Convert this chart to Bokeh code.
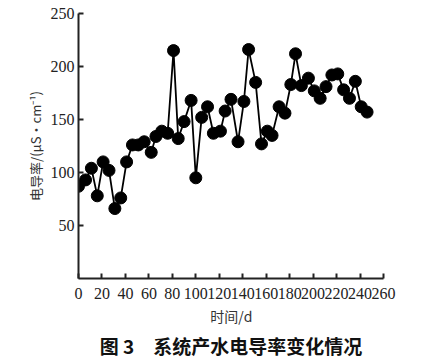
from bokeh.plotting import figure
from bokeh.models import Range1d, FixedTicker, Title, ColumnDataSource
from bokeh.embed import file_html
from bokeh.resources import INLINE

days = [0, 6, 11, 16, 21, 26, 31, 36, 41, 46, 51, 56, 62, 66, 71, 76, 81, 85, 90, 96,
        100, 105, 110, 115, 121, 125, 130, 136, 141, 145, 151, 156, 161, 165, 171, 176,
        181, 185, 190, 196, 201, 206, 211, 216, 221, 226, 231, 236, 241, 246]
conductivity = [87, 93, 104, 78, 110, 102, 66, 76, 110, 126, 126, 129, 119, 134, 139, 137,
                215, 132, 148, 168, 95, 152, 162, 137, 139, 158, 169, 129, 167, 216, 185,
                127, 139, 135, 162, 156, 183, 212, 182, 189, 177, 170, 181, 192, 193, 178,
                170, 186, 162, 157]
x_ticks = list(range(0, 261, 20))
y_ticks = [50, 100, 150, 200, 250]

src = ColumnDataSource(dict(x=days, y=conductivity))

p = figure(width=421, height=353, output_backend="svg", toolbar_location=None,
           frame_width=305, frame_height=265,
           x_range=Range1d(0, 260), y_range=Range1d(0, 250))
p.min_border_left = 78
p.min_border_top = 13
p.min_border_right = 38
p.min_border_bottom = 75
p.outline_line_color = None
p.grid.visible = False
p.background_fill_color = "white"

p.line("x", "y", source=src, line_color="black", line_width=1.8)
p.scatter("x", "y", source=src, size=12, fill_color="black", line_color="black")

for ax in (p.xaxis[0], p.yaxis[0]):
    ax.axis_line_width = 2
    ax.axis_line_color = "#222222"
    ax.major_tick_in = 5
    ax.major_tick_out = 0
    ax.major_tick_line_width = 2
    ax.major_tick_line_color = "#222222"
    ax.minor_tick_line_color = None
    ax.major_label_text_font = "Liberation Serif"
    ax.major_label_text_font_size = "16px"
    ax.major_label_text_color = "#222222"
    ax.axis_label_text_font = "Noto Sans CJK SC"
    ax.axis_label_text_font_style = "normal"
    ax.axis_label_text_color = "#333333"

p.xaxis.axis_label_text_font_size = "14px"
p.yaxis.axis_label_text_font_size = "13px"
p.xaxis.ticker = FixedTicker(ticks=x_ticks)
p.yaxis.ticker = FixedTicker(ticks=y_ticks)
p.xaxis.major_label_standoff = 9
p.yaxis.major_label_standoff = 4
p.xaxis.axis_label = "时间/d"
p.yaxis.axis_label = "电导率/(μS·cm⁻¹)"
p.xaxis.axis_label_standoff = 4
p.yaxis.axis_label_standoff = 3

cap = Title(text="图 3\u3000系统产水电导率变化情况", align="center",
            text_font="Noto Sans CJK SC", text_font_size="19px",
            text_font_style="bold", text_color="#111111", standoff=2)
p.add_layout(cap, "below")

open("out.html", "w").write(file_html(p, INLINE))
